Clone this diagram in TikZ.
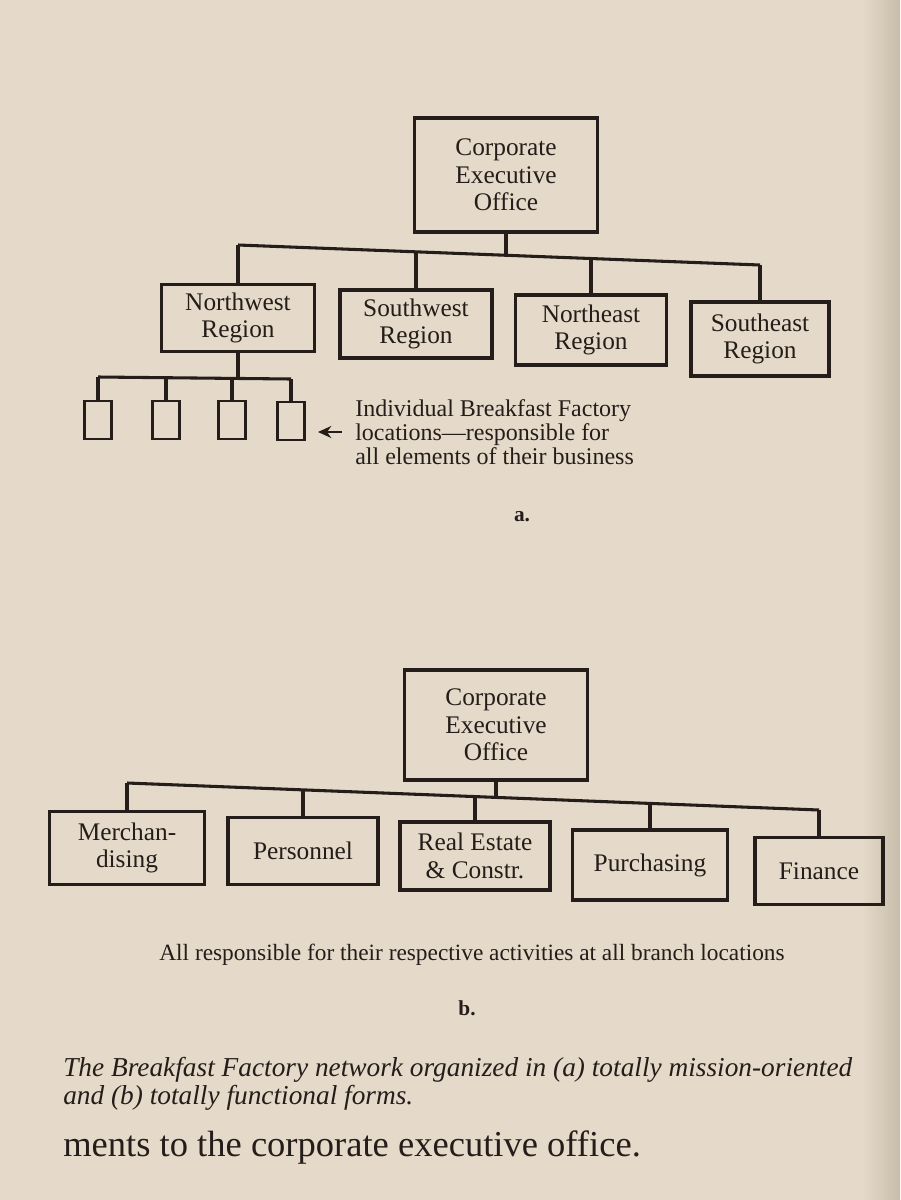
\documentclass[tikz,border=0pt]{standalone}
\usepackage{fontspec}
\setmainfont{Liberation Serif}
\usetikzlibrary{arrows.meta}
\definecolor{paper}{RGB}{229,218,201}
\definecolor{paperedge}{RGB}{200,188,170}
\definecolor{ink}{RGB}{36,29,25}
\begin{document}
\begin{tikzpicture}[x=0.75pt,y=-0.75pt,
  box/.style={draw=ink, line width=2.6pt, text=ink, align=center, inner sep=0pt,
    font=\fontsize{19}{20.5}\selectfont},
  sz/.style 2 args={minimum width=#1*0.75pt, minimum height=#2*0.75pt},
  link/.style={draw=ink, line width=2.3pt},
  unit/.style={draw=ink, line width=2.2pt, inner sep=0pt, sz={27}{38}},
  txt/.style={text=ink, inner sep=0pt}]

% page
\fill[paper] (0,0) rectangle (900,1200);
\shade[left color=paper, right color=paperedge] (862,0) rectangle (900,1200);
\useasboundingbox (0,0) rectangle (900,1200);

% ---------- (a) mission-oriented ----------
\node[box, sz={183}{114}] (ceoA) at (506,175) {Corporate\\Executive\\Office};
\node[box, sz={153}{67}] (nw) at (238,318) {Northwest\\Region};
\node[box, sz={152}{68}] (sw) at (416,324) {Southwest\\Region};
\node[box, sz={151}{70}] (ne) at (591,330) {Northeast\\Region};
\node[box, sz={138}{74}] (se) at (760,339) {Southeast\\Region};

\coordinate (a1) at (238,245);
\coordinate (a2) at (416,252);
\coordinate (a3) at (591,258);
\coordinate (a4) at (760,265);
\coordinate (aj) at (506,255);
\draw[link] (ceoA.south) -- (aj);
\draw[link] (a1) -- (a4);
\draw[link] (a1) -- (nw.north);
\draw[link] (a2) -- (sw.north);
\draw[link] (a3) -- (ne.north);
\draw[link] (a4) -- (se.north);

% branch locations under one region
\node[unit] (u1) at (98,420) {};
\node[unit] (u2) at (166,420) {};
\node[unit] (u3) at (232,420) {};
\node[unit] (u4) at (291,421) {};
\coordinate (b1) at (98,377);
\coordinate (b2) at (166,377.7);
\coordinate (b3) at (232,378.3);
\coordinate (b4) at (291,379);
\coordinate (bj) at (238,378.3);
\draw[link] (nw.south) -- (bj);
\draw[link] (b1) -- (b4);
\draw[link] (b1) -- (u1.north);
\draw[link] (b2) -- (u2.north);
\draw[link] (b3) -- (u3.north);
\draw[link] (b4) -- (u4.north);

\node[txt, anchor=west, align=left, font=\fontsize{18}{18}\selectfont] (note) at (355,432)
  {Individual Breakfast Factory\\locations—responsible for\\all elements of their business};
\draw[link, line width=2pt, -{Stealth[length=10pt,width=9pt]}, shorten <=10pt, shorten >=9pt]
  (note.west) -- (note.west -| u4.east);

\node[txt, font=\fontsize{16}{18}\selectfont\bfseries] (capA) at (522,517) {a.};

% ---------- (b) functional ----------
\node[box, sz={183}{110}] (ceoB) at (496,725) {Corporate\\Executive\\Office};
\node[box, sz={155}{73}] (mer) at (127,848) {Merchan-\\dising};
\node[box, sz={150}{67}] (per) at (303,851) {Personnel};
\node[box, sz={150}{68}] (rea) at (475,856) {Real Estate\\\& Constr.};
\node[box, sz={155}{70}] (pur) at (650,865) {Purchasing};
\node[box, sz={128}{67}] (fin) at (819,871) {Finance};

\coordinate (c1) at (127,783);
\coordinate (c2) at (303,789.9);
\coordinate (c3) at (475,796.6);
\coordinate (c4) at (650,803.4);
\coordinate (c5) at (819,810);
\coordinate (cj) at (496,797.4);
\draw[link] (ceoB.south) -- (cj);
\draw[link] (c1) -- (c5);
\draw[link] (c1) -- (mer.north);
\draw[link] (c2) -- (per.north);
\draw[link] (c3) -- (rea.north);
\draw[link] (c4) -- (pur.north);
\draw[link] (c5) -- (fin.north);

\node[txt, font=\fontsize{17.5}{18}\selectfont] (capAll) at (472,955)
  {All responsible for their respective activities at all branch locations};
\node[txt, font=\fontsize{16}{18}\selectfont\bfseries] (capB) at (467,1008) {b.};

% ---------- figure caption and running text ----------
\node[txt, anchor=west, font=\fontsize{20.5}{21}\selectfont\itshape] (fig1) at (63,1070)
  {The Breakfast Factory network organized in (\textit{a}) totally mission-oriented};
\node[txt, anchor=west, font=\fontsize{20.5}{21}\selectfont\itshape] (fig2) at (63,1098)
  {and (\textit{b}) totally functional forms.};
\node[txt, anchor=west, font=\fontsize{27.4}{30}\selectfont] (body) at (63,1148)
  {ments to the corporate executive office.};
\end{tikzpicture}
\end{document}
